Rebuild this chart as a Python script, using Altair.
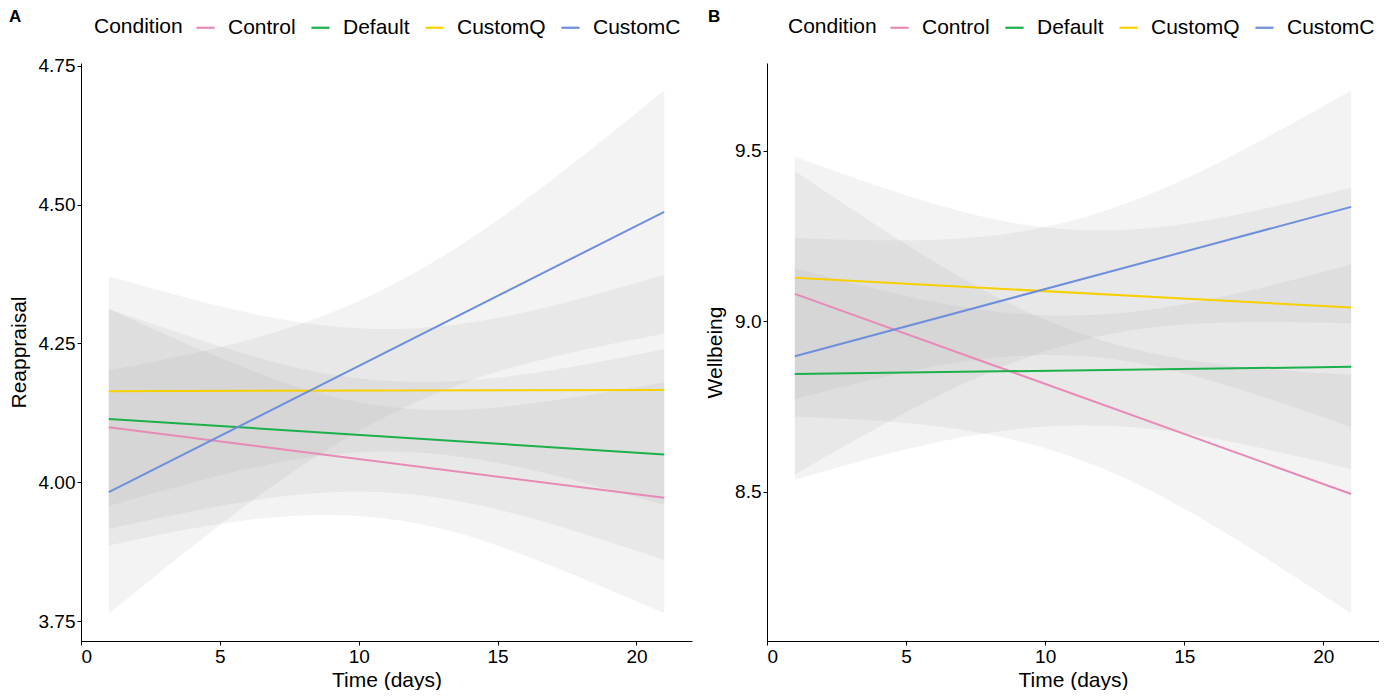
import altair as alt
import pandas as pd

conditions = ["Control", "Default", "CustomQ", "CustomC"]
colors = ["#E78AB8", "#1BB04B", "#F7D000", "#6E8FDB"]

line_days = [1, 21]
band_days = [1, 5, 9, 13, 17, 21]

# Panel A: Reappraisal
reap_line = {
    "Control": [4.099, 3.972],
    "Default": [4.114, 4.050],
    "CustomQ": [4.164, 4.166],
    "CustomC": [3.982, 4.487],
}
reap_upper = {
    "Control": [4.312, 4.224, 4.155, 4.130, 4.147, 4.180],
    "Default": [4.312, 4.245, 4.194, 4.181, 4.202, 4.240],
    "CustomQ": [4.371, 4.317, 4.281, 4.281, 4.318, 4.373],
    "CustomC": [4.201, 4.243, 4.305, 4.406, 4.546, 4.706],
}
reap_lower = {
    "Control": [3.886, 3.925, 3.941, 3.916, 3.848, 3.764],
    "Default": [3.916, 3.957, 3.982, 3.971, 3.924, 3.860],
    "CustomQ": [3.957, 4.012, 4.050, 4.050, 4.013, 3.959],
    "CustomC": [3.763, 3.923, 4.063, 4.164, 4.226, 4.268],
}

# Panel B: Wellbeing
well_line = {
    "Control": [9.080, 8.493],
    "Default": [8.845, 8.866],
    "CustomQ": [9.127, 9.040],
    "CustomC": [8.897, 9.335],
}
well_upper = {
    "Control": [9.440, 9.225, 9.041, 8.922, 8.867, 8.843],
    "Default": [9.155, 9.074, 9.022, 9.026, 9.083, 9.166],
    "CustomQ": [9.482, 9.369, 9.286, 9.268, 9.314, 9.391],
    "CustomC": [9.244, 9.237, 9.261, 9.348, 9.497, 9.676],
}
well_lower = {
    "Control": [8.720, 8.701, 8.649, 8.534, 8.353, 8.143],
    "Default": [8.535, 8.624, 8.684, 8.690, 8.641, 8.566],
    "CustomQ": [8.772, 8.851, 8.898, 8.882, 8.800, 8.689],
    "CustomC": [8.550, 8.733, 8.883, 8.972, 8.997, 8.994],
}

x_ticks = [0, 5, 10, 15, 20]
reap_ticks = [3.75, 4.00, 4.25, 4.50, 4.75]
well_ticks = [8.5, 9.0, 9.5]

FONT = "Liberation Sans"


def panel(letter, ytitle, line, upper, lower, ydomain, yticks, yfmt, w, h, lx, letter_x):
    band_rows = []
    for c in conditions:
        for d, u, l in zip(band_days, upper[c], lower[c]):
            band_rows.append({"Condition": c, "day": d, "upper": u, "lower": l})
    band_df = pd.DataFrame(band_rows)
    line_rows = []
    for c in conditions:
        for d, v in zip(line_days, line[c]):
            line_rows.append({"Condition": c, "day": d, "value": v})
    line_df = pd.DataFrame(line_rows)

    xscale = alt.Scale(domain=[0, 22], nice=False, zero=False)
    yscale = alt.Scale(domain=ydomain, nice=False, zero=False)
    xaxis = alt.Axis(values=x_ticks, title="Time (days)", format="d")
    yaxis = alt.Axis(values=yticks, title=ytitle, format=yfmt)

    band = alt.Chart(band_df).mark_area(
        fill="#999999", opacity=0.12, interpolate="natural"
    ).encode(
        x=alt.X("day:Q", scale=xscale, axis=xaxis),
        y=alt.Y("upper:Q", scale=yscale, axis=yaxis),
        y2="lower:Q",
        detail="Condition:N",
    )

    lines = alt.Chart(line_df).mark_line(strokeWidth=2).encode(
        x=alt.X("day:Q", scale=xscale, axis=xaxis),
        y=alt.Y("value:Q", scale=yscale, axis=yaxis),
        color=alt.Color(
            "Condition:N",
            scale=alt.Scale(domain=conditions, range=colors),
            sort=conditions,
            legend=alt.Legend(
                orient="none",
                legendX=lx,
                legendY=-46,
                direction="horizontal",
                columns=4,
                title="Condition",
                titleOrient="left",
                titleFontSize=21,
                titleFontWeight="normal",
                titleFont=FONT,
                titleColor="black",
                titlePadding=12,
                labelFontSize=21,
                labelFont=FONT,
                labelColor="black",
                labelOffset=12,
                columnPadding=11,
                symbolType="stroke",
                symbolStrokeWidth=2.2,
                symbolSize=330,
            ),
        ),
    )

    label = alt.Chart(pd.DataFrame({"t": [letter]})).mark_text(
        font=FONT, fontSize=17, fontWeight="bold", align="left", baseline="top", color="black"
    ).encode(text="t:N", x=alt.value(letter_x), y=alt.value(-54))

    return alt.layer(band, lines, label).properties(width=w, height=h)


pa = panel("A", "Reappraisal", reap_line, reap_upper, reap_lower,
           [3.714, 4.755], reap_ticks, ".2f", 611, 578, 13, -72)
pb = panel("B", "Wellbeing", well_line, well_upper, well_lower,
           [8.062, 9.757], well_ticks, ".1f", 612, 578, 21, -59)

chart = alt.hconcat(pa, pb, spacing=12).resolve_scale(
    color="independent", x="independent", y="independent"
).resolve_legend(color="independent").properties(padding=0).configure_view(
    stroke=None
).configure_axis(
    grid=False,
    labelFont=FONT,
    titleFont=FONT,
    labelFontSize=19,
    titleFontSize=21,
    titleFontWeight="normal",
    labelColor="black",
    titleColor="black",
    domainColor="black",
    tickColor="black",
    tickSize=4,
    labelPadding=2,
    titlePadding=3,
).configure_axisY(titlePadding=9)

chart.save("out.html", embed_options={"renderer": "svg", "actions": False})
